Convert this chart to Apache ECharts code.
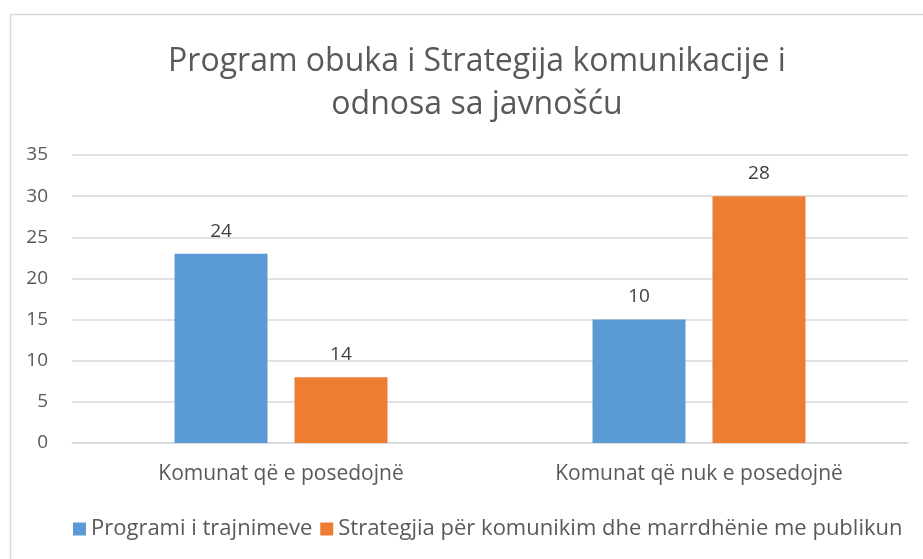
<!DOCTYPE html>
<html>
<head>
<meta charset="utf-8">
<script src="https://cdn.jsdelivr.net/npm/echarts@6/dist/echarts.min.js"></script>
<style>html,body{margin:0;padding:0;background:#fff}#c{width:923px;height:559px}</style>
</head>
<body>
<div id="c"></div>
<script>
const categories = ['Komunat që e posedojnë', 'Komunat që nuk e posedojnë'];
const seriesNames = ['Programi i trajnimeve', 'Strategjia për komunikim dhe marrdhënie me publikun'];
const programiValues = [23, 15];
const strategjiaValues = [8, 30];
const programiLabels = ['24', '10'];
const strategjiaLabels = ['14', '28'];
const yTicks = [0, 5, 10, 15, 20, 25, 30, 35];

const FONT = 'Open Sans';
const chart = echarts.init(document.getElementById('c'), null, {renderer: 'canvas'});

function labelFor(arr) {
  return {
    show: true, position: 'top', distance: 13,
    color: '#404040', fontFamily: FONT, fontSize: 19,
    formatter: p => arr[p.dataIndex]
  };
}

chart.setOption({
  animation: false,
  color: ['#5B9BD5', '#ED7D31'],
  title: {
    text: 'Program obuka i Strategija komunikacije i\nodnosa sa javnošću',
    left: 472, top: 35, textAlign: 'center',
    textStyle: {fontFamily: FONT, fontSize: 32, fontWeight: 'normal', color: '#595959', lineHeight: 43}
  },
  graphic: [{
    type: 'rect', left: 8, top: 12, shape: {x: 0, y: 0, width: 1200, height: 1200},
    style: {fill: 'none', stroke: '#d9d9d9', lineWidth: 1.5}, silent: true
  }],
  legend: {
    top: 513, left: 68,
    itemWidth: 13, itemHeight: 13, itemGap: 8, icon: 'rect',
    textStyle: {fontFamily: FONT, fontSize: 22, color: '#595959'},
    data: seriesNames
  },
  grid: {left: 72, right: 15, top: 155, bottom: 116},
  xAxis: {
    type: 'category', data: categories,
    axisLine: {show: true, lineStyle: {color: '#d9d9d9', width: 1.5}},
    axisTick: {show: false},
    axisLabel: {fontFamily: FONT, fontSize: 21, color: '#595959', margin: 21}
  },
  yAxis: {
    type: 'value', min: 0, max: 35, interval: 5,
    axisLine: {show: false}, axisTick: {show: false},
    axisLabel: {fontFamily: FONT, fontSize: 19, color: '#595959', margin: 24,
      formatter: v => yTicks.includes(v) ? String(v) : ''},
    splitLine: {lineStyle: {color: '#d9d9d9', width: 1.5}}
  },
  series: [
    {name: seriesNames[0], type: 'bar', data: programiValues, barWidth: 93, barGap: '29%', label: labelFor(programiLabels)},
    {name: seriesNames[1], type: 'bar', data: strategjiaValues, barWidth: 93, barGap: '29%', label: labelFor(strategjiaLabels)}
  ]
});
</script>
</body>
</html>
